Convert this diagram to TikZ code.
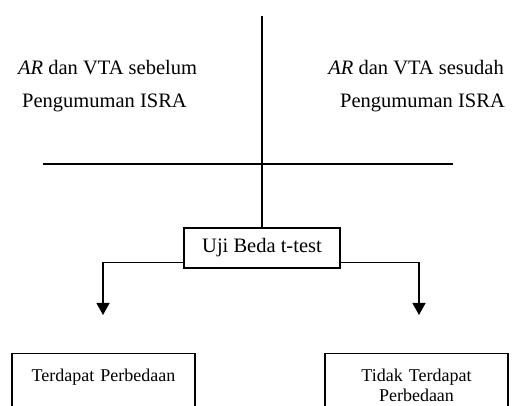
\documentclass[tikz,border=0pt]{standalone}
\usepackage{fontspec}
\setmainfont{Liberation Serif}
\usetikzlibrary{arrows.meta}
\begin{document}
\begin{tikzpicture}[x=1pt,y=-1pt,
  lbl/.style={font=\fontsize{20.5}{24}\selectfont, inner sep=0pt},
  testbox/.style={draw, line width=1.3pt, font=\fontsize{20.5}{24}\selectfont, minimum width=156pt, minimum height=40pt, inner sep=0pt},
  resbox/.style={draw, line width=1.3pt, font=\fontsize{18}{20}\selectfont, anchor=north, align=center, text width=183pt, inner xsep=0pt, inner ysep=0pt, text height=28pt, text depth=60pt},
  axis/.style={line width=1.3pt},
  arr/.style={line width=1.3pt, -{Triangle[width=13pt,length=12pt]}}]
  \path[use as bounding box, clip] (0,0) rectangle (515,406);
  \node[lbl, anchor=base west] (preA) at (18,75) {\textit{AR} dan VTA sebelum};
  \node[lbl, anchor=base west] (preB) at (22,108) {Pengumuman ISRA};
  \node[lbl, anchor=base east] (postA) at (504,75) {\textit{AR} dan VTA sesudah};
  \node[lbl, anchor=base east] (postB) at (505,108) {Pengumuman ISRA};
  \node[testbox] (uji) at (262,248) {Uji Beda t-test};
  \node[resbox] (beda) at (103.5,353) {Terdapat Perbedaan};
  \node[resbox] (tidak) at (416.5,353) {Tidak Terdapat\\Perbedaan};
  \coordinate (top) at (262,16);
  \coordinate (hl) at (43,164);
  \coordinate (hr) at (453,164);
  \coordinate (tipL) at (103,315);
  \coordinate (tipR) at (419,315);
  \draw[axis] (top) -- (uji);
  \draw[axis] (hl) -- (hr);
  \draw[arr] ([yshift=6pt]uji.south west) -| (tipL);
  \draw[arr] ([yshift=6pt]uji.south east) -| (tipR);
\end{tikzpicture}
\end{document}
